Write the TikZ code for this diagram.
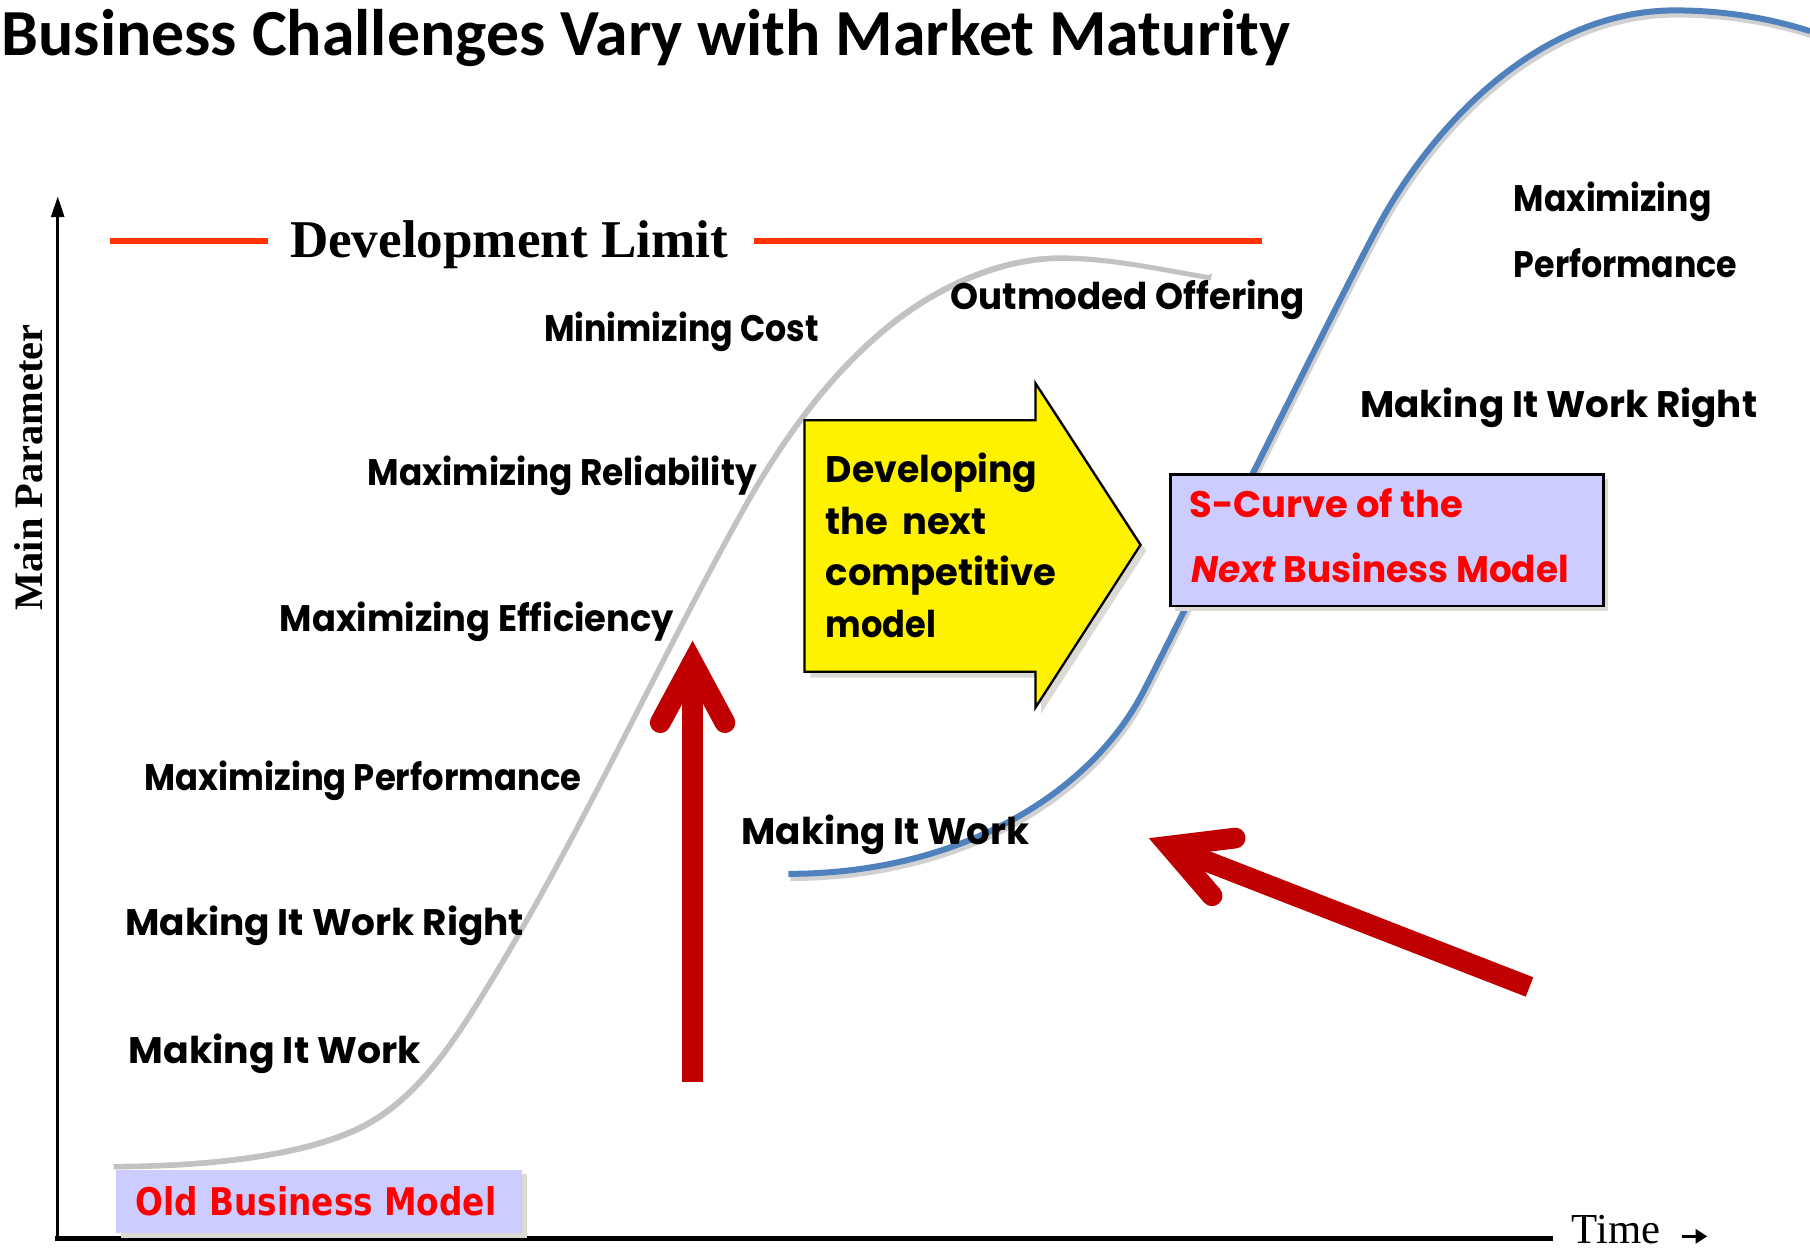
\documentclass[tikz,border=0pt]{standalone}
\usepackage{fontspec}
\setmainfont{Liberation Serif}
\newfontfamily\comicfont{Poppins}
\newfontfamily\titlefont{Carlito}
\newfontfamily\oldfont{DejaVu Sans}
\usetikzlibrary{arrows.meta,shadows}
\definecolor{devred}{HTML}{FF3300}
\definecolor{scurve}{HTML}{4F81BD}
\definecolor{arrred}{HTML}{C00000}
\definecolor{boxblue}{HTML}{CCCCFF}
\definecolor{shadowc}{HTML}{DCDAD5}
\newcommand\cmfont{\comicfont\bfseries\fontsize{16}{19}\selectfont}
\newcommand\sx[2]{\scalebox{#1}[1]{#2}}
\begin{document}
\begin{tikzpicture}[x=0.5pt,y=-0.5pt,
  lbl/.style={anchor=base west, inner sep=0pt, font=\cmfont},
  devline/.style={devred, line width=2.4pt},
  redarrow/.style={arrred, line width=9pt},
  boxshadow/.style={drop shadow={shadow xshift=2pt, shadow yshift=-2pt, fill=shadowc, opacity=1}}]
\useasboundingbox (0,0) rectangle (1568,1083);

% title
\node[anchor=base west, inner sep=0pt, font=\titlefont\bfseries\fontsize{28.5}{32}\selectfont] (title) at (1,48) {Business Challenges Vary with Market Maturity};

% axes
\coordinate (origin) at (50,1073);
\coordinate (ytip) at (50,170);
\coordinate (xend) at (1343,1073);
\draw[line width=1.4pt,-{Triangle[length=9pt,width=5.5pt]}] (origin) -- (ytip);
\draw[line width=2pt, line cap=rect] (origin) -- (xend);
\node[anchor=base west, inner sep=0pt, font=\fontsize{18.5}{21}\selectfont] (time) at (1361,1077) {Time};
\coordinate (ta) at (1457,1071);
\coordinate (tb) at (1479,1071);
\draw[line width=1.4pt,-{Triangle[length=5pt,width=6pt]}] (ta) -- (tb);
\node[rotate=90, inner sep=0pt, font=\bfseries\fontsize{17.5}{19}\selectfont] (ylab) at (25,405) {Main Parameter};

% development limit
\node[anchor=base, inner sep=0pt, font=\bfseries\fontsize{23}{26}\selectfont] (devlim) at (441,223) {Development Limit};
\coordinate (dl1) at (95,209);
\coordinate (dl2) at (232,209);
\coordinate (dl3) at (653,209);
\coordinate (dl4) at (1093,209);
\draw[devline] (dl1) -- (dl2);
\draw[devline] (dl3) -- (dl4);

% old S-curve (white with shadow)
\coordinate (ga) at (96,1006);
\coordinate (gb) at (320,967);
\coordinate (gc) at (410,866);
\coordinate (gd) at (640,439);
\coordinate (ge) at (769,277);
\coordinate (gf) at (918,219);
\coordinate (gg) at (1047,236);
\draw[white, line width=2.2pt, line cap=round,
  preaction={draw=black!24, line width=3pt, transform canvas={xshift=1.2pt,yshift=-2pt}}]
  (ga) .. controls (172,1006) and (268.6,997.8) .. (gb)
       .. controls (358.6,943.9) and (386.2,904.2) .. (gc)
       .. controls (494.8,730.3) and (562.2,578.8) .. (gd)
       .. controls (673.5,378.7) and (715.1,320.1) .. (ge)
       .. controls (810.4,243.9) and (865,219) .. (gf)
       .. controls (960,219) and (1004.6,228.8) .. (gg);

% new S-curve (blue)
\coordinate (ba) at (683,757);
\coordinate (bb) at (990,600);
\coordinate (bc) at (1200,185);
\coordinate (bd) at (1451,9);
\coordinate (be) at (1568,27);
\draw[scurve, line width=2.6pt,
  preaction={draw=black!18, line width=2.6pt, transform canvas={xshift=0.8pt,yshift=-1.8pt}}]
  (ba) .. controls (830,757) and (943.6,688.6) .. (bb)
       .. controls (1017.8,546.8) and (1175,228) .. (bc)
       .. controls (1250,98.4) and (1340,9) .. (bd)
       .. controls (1500,9) and (1540,18) .. (be);

% yellow arrow
\coordinate (ya1) at (697,364);
\coordinate (ya2) at (897,364);
\coordinate (ya3) at (897,332);
\coordinate (ya4) at (988,472);
\coordinate (ya5) at (897,613);
\coordinate (ya6) at (897,582);
\coordinate (ya7) at (697,582);
\fill[shadowc, transform canvas={xshift=2.5pt,yshift=-2.5pt}] (ya1) -- (ya2) -- (ya3) -- (ya4) -- (ya5) -- (ya6) -- (ya7) -- cycle;
\draw[fill=yellow, line width=1pt] (ya1) -- (ya2) -- (ya3) -- (ya4) -- (ya5) -- (ya6) -- (ya7) -- cycle;
\node[lbl] (dev1) at (715,418) {\sx{0.98}{Developing}};
\node[lbl] (dev2) at (715,463) {the\hspace{6pt}next};
\node[lbl] (dev3) at (715,507) {competitive};
\node[lbl] (dev4) at (715,552) {\sx{0.91}{model}};

% S-curve box
\node[draw=black, line width=1pt, fill=boxblue, boxshadow, anchor=north west, inner sep=0pt, minimum width=187.5pt, minimum height=57pt] (sbox) at (1013,410) {};
\node[lbl, text=red] (s1) at (1030,448) {S-Curve of the};
\node[lbl, text=red] (s2) at (1032,505) {\sx{0.97}{\itshape Next\upshape{} Business Model}};

% old business model box
\node[fill=boxblue, boxshadow, anchor=north west, inner sep=0pt, minimum width=176pt, minimum height=27.5pt] (oldbox) at (100,1013) {};
\node[anchor=base west, inner sep=0pt, text=red, font=\oldfont\bfseries\fontsize{16.5}{18}\selectfont] (oldtext) at (117,1053) {\sx{0.86}{Old Business Model}};

% labels
\node[lbl] (mc) at (471,296) {\sx{0.90}{Minimizing Cost}};
\node[lbl] (oo) at (823,268) {\sx{0.965}{Outmoded Offering}};
\node[lbl] (mr) at (318,421) {\sx{0.93}{Maximizing Reliability}};
\node[lbl] (me) at (242,547) {\sx{0.955}{Maximizing Efficiency}};
\node[lbl] (mp) at (125,685) {\sx{0.915}{Maximizing Performance}};
\node[lbl] (mwr) at (108,810) {\sx{1.015}{Making It Work Right}};
\node[lbl] (mw) at (111,921) {\sx{1.025}{Making It Work}};
\node[lbl] (mw2) at (642,732) {\sx{1.01}{Making It Work}};
\node[lbl] (mx2) at (1311,183) {\sx{0.895}{Maximizing}};
\node[lbl] (pf2) at (1311,240) {\sx{0.90}{Performance}};
\node[lbl] (mwr2) at (1178,362) {\sx{1.01}{Making It Work Right}};

% red arrows
\coordinate (vapex) at (600,574);
\coordinate (varmL) at (572,626);
\coordinate (varmR) at (628,626);
\coordinate (vneck) at (600,584);
\coordinate (vtail) at (600,937);
\draw[redarrow] (vneck) -- (vtail);
\draw[redarrow, line cap=round, line join=miter] (varmL) -- (vapex) -- (varmR);

\coordinate (dapex) at (1013,733);
\coordinate (darmT) at (1070,726);
\coordinate (darmB) at (1050,776);
\coordinate (dneck) at (1022,737);
\coordinate (dtail) at (1325,855);
\draw[redarrow] (dneck) -- (dtail);
\draw[redarrow, line cap=round, line join=miter] (darmT) -- (dapex) -- (darmB);
\end{tikzpicture}
\end{document}
